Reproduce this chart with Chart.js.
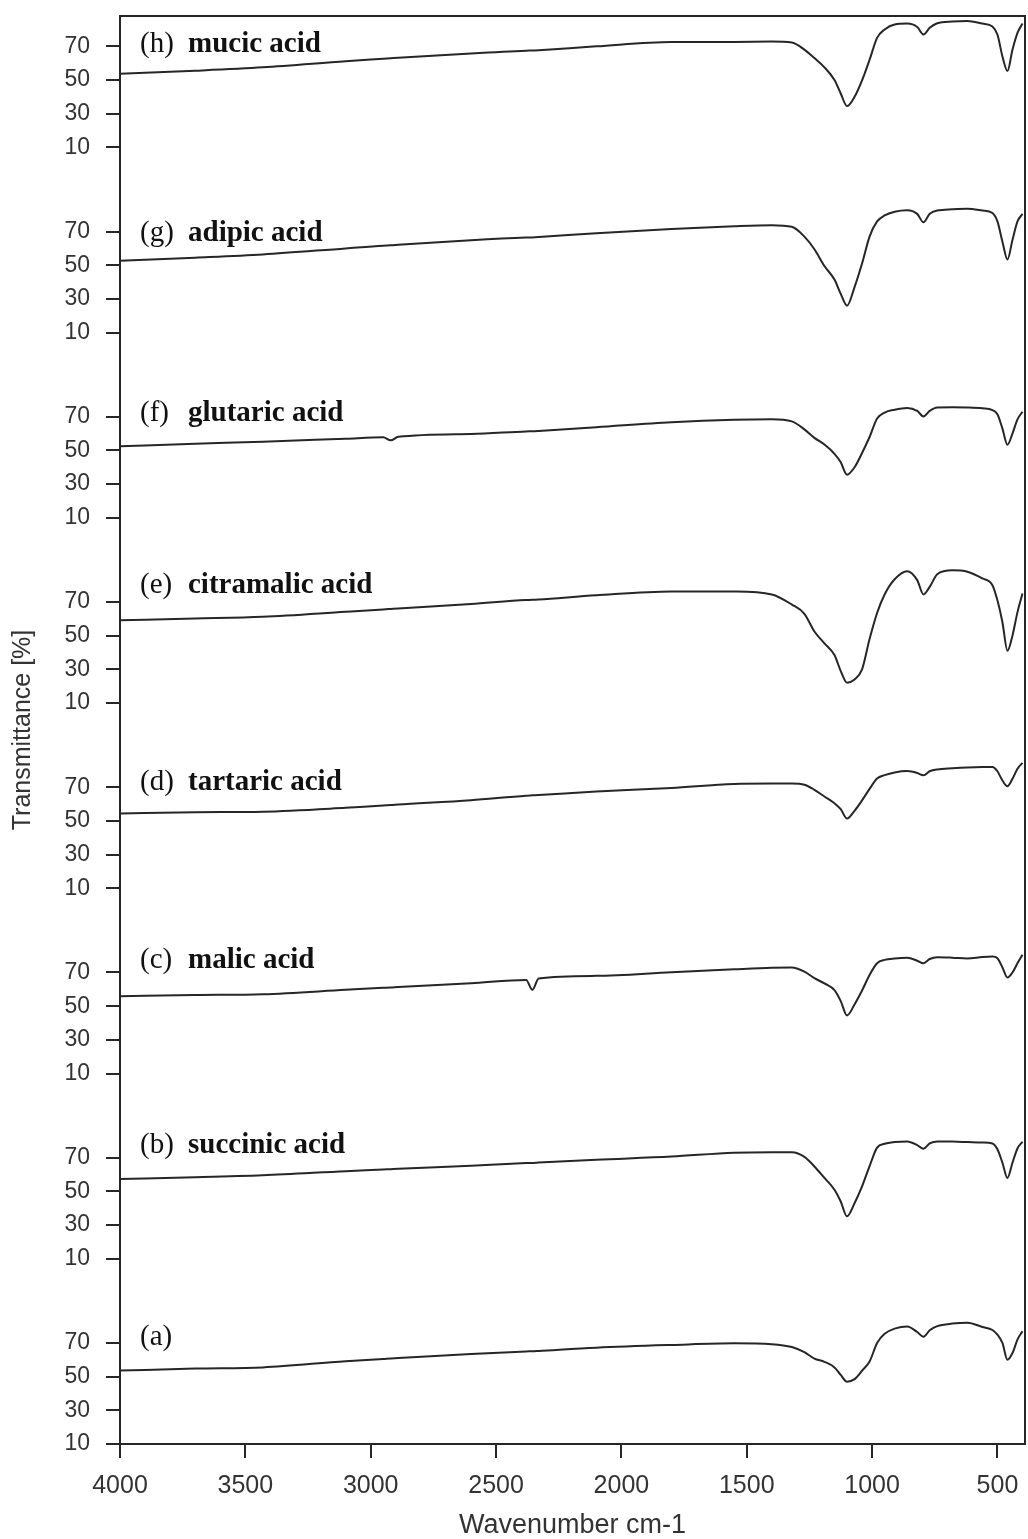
<!DOCTYPE html>
<html>
<head>
<meta charset="utf-8">
<script src="https://cdn.jsdelivr.net/npm/chart.js@4/dist/chart.umd.min.js"></script>
<style>
  html, body { margin: 0; padding: 0; background: #ffffff; }
  #wrap { width: 1028px; height: 1539px; }
</style>
</head>
<body>
<div id="wrap"><canvas id="c" width="1028" height="1539"></canvas></div>
<script>
// ---- data (wavenumber in cm-1, transmittance in %) ----
const wavenumbers = [4000,3700,3430,3100,2950,2920,2890,2600,2380,2355,2330,2100,1800,1550,1400,1320,1270,1230,1190,1150,1125,1100,1070,1040,1010,980,950,910,860,820,795,770,740,680,620,560,520,500,480,460,440,420,400];

const specA = [53.6,54.8,55.5,59.2,60.5,60.8,61.0,63.5,65.0,65.1,65.3,67.2,68.8,69.8,69.3,67.6,64.5,60.7,58.8,55.5,51.0,47.0,48.5,53.5,59.0,70.0,75.5,78.5,79.8,76.5,73.7,77.5,80.0,81.5,82.0,79.5,77.7,75.0,70.0,60.0,64.0,72.0,77.0];
const specB = [57.4,58.4,59.6,62.0,63.0,63.2,63.4,65.3,66.8,66.9,67.1,68.8,70.7,73.0,73.3,73.2,70.5,64.8,58.0,51.0,44.0,35.2,43.0,53.0,65.0,76.0,78.3,79.3,79.7,77.5,75.3,78.5,79.7,79.6,79.3,79.0,78.5,75.0,67.0,58.0,67.0,75.5,79.5];
const specC = [55.9,56.6,57.1,59.7,60.9,61.1,61.4,63.6,65.6,59.7,66.5,68.0,70.2,71.9,72.8,73.0,70.5,66.6,63.5,59.5,53.0,44.5,51.0,59.3,68.5,75.5,77.5,78.3,78.7,77.0,75.5,78.0,79.1,78.8,78.3,79.2,79.5,78.5,73.0,67.0,70.0,75.5,80.5];
const specD = [54.4,55.2,55.5,57.8,59.2,59.4,59.7,62.3,65.0,65.2,65.4,67.5,69.6,72.0,72.2,72.2,71.5,68.5,64.5,60.5,57.0,51.4,56.0,62.2,69.0,75.2,77.2,78.8,79.6,78.5,77.1,79.5,80.6,81.3,81.8,82.0,82.0,79.5,74.0,70.6,75.0,81.0,84.5];
const specE = [59.2,60.2,61.2,64.2,65.6,65.9,66.2,68.8,71.2,71.3,71.5,74.0,76.3,76.2,74.5,68.5,63.0,52.5,45.5,38.5,29.0,22.1,24.0,30.0,48.0,63.5,74.5,83.5,88.3,83.0,74.5,79.0,86.5,88.8,88.0,84.0,80.0,71.0,58.0,41.0,50.0,64.0,75.0];
const specF = [52.5,54.0,55.2,57.0,57.8,56.0,58.1,59.8,61.3,61.4,61.6,63.8,66.8,68.3,68.6,67.3,62.5,57.5,53.5,48.0,43.0,35.6,40.0,48.5,58.0,69.0,72.5,74.2,75.2,73.5,70.2,73.5,75.5,75.6,75.5,75.0,74.0,71.5,63.0,53.4,60.0,68.5,73.0];
const specG = [52.7,54.5,56.4,60.0,61.6,61.8,62.1,64.8,66.4,66.5,66.7,69.0,71.5,73.2,73.8,72.8,67.0,59.5,49.5,41.5,33.0,26.0,37.0,51.0,67.0,76.0,79.6,81.8,82.7,80.5,75.5,80.5,82.5,83.2,83.5,82.5,81.0,76.0,64.0,53.4,65.0,76.0,80.5];
const specH = [53.7,55.5,57.5,61.1,62.6,62.9,63.2,65.8,67.4,67.5,67.7,70.0,72.6,72.6,72.8,72.3,68.0,63.0,57.5,50.0,42.0,34.5,40.0,49.8,62.0,75.0,80.0,83.0,83.5,81.5,77.0,81.0,83.7,84.7,85.0,83.5,81.8,77.0,64.0,55.3,68.0,78.0,83.5];

const panelTags  = ['(a)','(b)','(c)','(d)','(e)','(f)','(g)','(h)'];
const acidNames  = ['','succinic acid','malic acid','tartaric acid','citramalic acid','glutaric acid','adipic acid','mucic acid'];
const yTickLabels = ['10','30','50','70'];
const yTickValues = [10,30,50,70];
const xTickValues = [4000,3500,3000,2500,2000,1500,1000,500];
const panelStep = 110;   // vertical offset between stacked spectra (in % units)

const spectra = [specA,specB,specC,specD,specE,specF,specG,specH];
const INK = '#262626';

const datasets = spectra.map((s, k) => ({
  label: panelTags[k] + ' ' + acidNames[k],
  data: wavenumbers.map((w, i) => ({ x: w, y: s[i] + k * panelStep })),
  borderColor: INK,
  borderWidth: 2,
  pointRadius: 0,
  fill: false,
  cubicInterpolationMode: 'monotone'
}));

const panelLabels = {
  id: 'panelLabels',
  afterDatasetsDraw(chart, args, opts) {
    const { ctx, chartArea, scales } = chart;
    ctx.save();
    // frame: top and right edges
    ctx.strokeStyle = INK;
    ctx.lineWidth = 2;
    ctx.beginPath();
    ctx.moveTo(chartArea.left, chartArea.top);
    ctx.lineTo(chartArea.right, chartArea.top);
    ctx.lineTo(chartArea.right, chartArea.bottom);
    ctx.stroke();
    // labels
    ctx.fillStyle = '#111';
    ctx.textBaseline = 'alphabetic';
    ctx.textAlign = 'left';
    const x0 = scales.x.getPixelForValue(scales.x.max);
    opts.levels.forEach((lv, k) => {
      const y = scales.y.getPixelForValue(lv + k * panelStep);
      ctx.font = '29px "Liberation Serif", "Times New Roman", serif';
      ctx.fillText(panelTags[k], x0 + 20, y);
      if (acidNames[k]) {
        ctx.font = 'bold 29px "Liberation Serif", "Times New Roman", serif';
        ctx.fillText(acidNames[k], x0 + 68, y);
      }
    });
    ctx.restore();
  }
};

new Chart(document.getElementById('c'), {
  type: 'line',
  data: { datasets },
  plugins: [panelLabels],
  options: {
    responsive: false,
    animation: false,
    layout: { padding: { top: 16, right: 3, left: 0, bottom: 0 } },
    plugins: {
      legend: { display: false },
      tooltip: { enabled: false },
      panelLabels: { levels: [68.8, 72.9, 72.4, 68.4, 75.2, 67.3, 64.1, 66.9] }
    },
    scales: {
      x: {
        type: 'linear',
        reverse: true,
        min: 390,
        max: 4000,
        afterBuildTicks: s => { s.ticks = xTickValues.map(v => ({ value: v })); },
        afterFit: s => { s.height = 95; s.paddingLeft = 0; s.paddingRight = 0; },
        ticks: {
          autoSkip: false,
          maxRotation: 0,
          padding: 13,
          color: '#333',
          font: { family: '"Liberation Sans", Arial, sans-serif', size: 25 },
          callback: v => String(v)
        },
        grid: { drawOnChartArea: false, drawTicks: true, tickLength: 14, color: INK, lineWidth: 2 },
        border: { display: true, color: INK, width: 2 },
        title: {
          display: true,
          text: 'Wavenumber cm-1',
          color: '#333',
          padding: { top: 0, bottom: 0 },
          font: { family: '"Liberation Sans", Arial, sans-serif', size: 27, lineHeight: 1 }
        }
      },
      y: {
        type: 'linear',
        min: 10,
        max: 858,
        afterBuildTicks: s => {
          const t = [];
          for (let k = 0; k < spectra.length; k++) {
            yTickValues.forEach(v => t.push({ value: v + k * panelStep }));
          }
          s.ticks = t;
        },
        afterFit: s => { s.width = 120; s.paddingTop = 0; s.paddingBottom = 0; },
        ticks: {
          autoSkip: false,
          padding: 16,
          color: '#333',
          font: { family: '"Liberation Sans", Arial, sans-serif', size: 23 },
          callback: (v, i) => yTickLabels[i % yTickLabels.length]
        },
        grid: { drawOnChartArea: false, drawTicks: true, tickLength: 14, color: INK, lineWidth: 2 },
        border: { display: true, color: INK, width: 2 },
        title: {
          display: true,
          text: 'Transmittance [%]',
          color: '#333',
          padding: { top: 11, bottom: 0 },
          font: { family: '"Liberation Sans", Arial, sans-serif', size: 25, lineHeight: 1 }
        }
      }
    }
  }
});
</script>
</body>
</html>
